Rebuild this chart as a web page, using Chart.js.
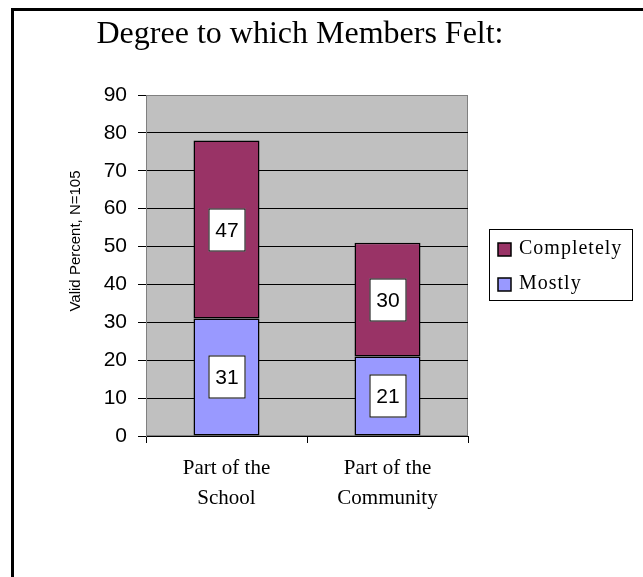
<!DOCTYPE html>
<html>
<head>
<meta charset="utf-8">
<script src="https://cdn.jsdelivr.net/npm/chart.js@4/dist/chart.umd.min.js"></script>
<style>
  html, body { margin: 0; padding: 0; background: #fff; }
  #wrap { width: 643px; height: 577px; position: relative; }
</style>
</head>
<body>
<div id="wrap"><canvas id="chart" width="643" height="577"></canvas></div>
<script>
const chartTitle = "Degree to which Members Felt:";
const yAxisTitle = "Valid Percent, N=105";
const categories = [["Part of the", "School"], ["Part of the", "Community"]];
const mostly = [31, 21];
const completely = [47, 30];
const yMin = 0;
const yMax = 90;
const yStep = 10;

const MAROON = "#993366";
const PERIWINKLE = "#9999FF";
const PLOT_BG = "#C0C0C0";

// frame, title, plot background and axis title
const decorPlugin = {
  id: "decor",
  beforeDraw(chart) {
    const { ctx, chartArea: a } = chart;
    ctx.save();
    ctx.fillStyle = "#fff";
    ctx.fillRect(0, 0, chart.width, chart.height);
    ctx.fillStyle = PLOT_BG;
    ctx.fillRect(a.left, a.top, a.right - a.left, a.bottom - a.top);
    ctx.strokeStyle = "#808080";
    ctx.lineWidth = 1;
    ctx.strokeRect(a.left + 0.5, a.top + 0.5, a.right - a.left - 1, a.bottom - a.top - 1);
    ctx.restore();
  },
  afterDraw(chart) {
    const { ctx } = chart;
    ctx.save();
    // outer frame (top and left edges)
    ctx.fillStyle = "#000";
    ctx.fillRect(11, 8, chart.width - 11, 3);
    ctx.fillRect(11, 8, 3, chart.height - 8);

    ctx.fillStyle = "#000";
    ctx.font = "32px 'Liberation Serif', 'Times New Roman', serif";
    ctx.textAlign = "center";
    ctx.textBaseline = "alphabetic";
    ctx.fillText(chartTitle, 300, 43);

    ctx.translate(76, 241);
    ctx.rotate(-Math.PI / 2);
    ctx.font = "15px 'Liberation Sans', Arial, sans-serif";
    ctx.textBaseline = "middle";
    ctx.fillText(yAxisTitle, 0, 0);
    ctx.restore();
  }
};

// boxed value labels in the middle of each segment
const boxLabels = {
  id: "boxLabels",
  afterDatasetsDraw(chart) {
    const { ctx } = chart;
    ctx.save();
    ctx.font = "21px 'Liberation Sans', Arial, sans-serif";
    ctx.textAlign = "center";
    ctx.textBaseline = "middle";
    chart.data.datasets.forEach((ds, i) => {
      const meta = chart.getDatasetMeta(i);
      meta.data.forEach((bar, j) => {
        const cx = Math.round(bar.x);
        const cy = Math.round((bar.y + bar.base) / 2);
        const w = 37, h = 43;
        ctx.fillStyle = "#fff";
        ctx.fillRect(cx - w / 2, cy - h / 2, w, h);
        ctx.strokeStyle = "#000";
        ctx.lineWidth = 1;
        ctx.strokeRect(cx - w / 2 + 0.5, cy - h / 2 + 0.5, w - 1, h - 1);
        ctx.fillStyle = "#000";
        ctx.fillText(String(ds.data[j]), cx, cy + 1);
      });
    });
    ctx.restore();
  }
};

// boxed legend on the right, top item = last dataset
const boxLegend = {
  id: "boxLegend",
  afterDraw(chart) {
    const { ctx } = chart;
    ctx.save();
    ctx.strokeStyle = "#000";
    ctx.lineWidth = 1;
    ctx.strokeRect(489.5, 229.5, 143, 71);
    ctx.font = "20px 'Liberation Serif', 'Times New Roman', serif";
    ctx.letterSpacing = "1px";
    ctx.textBaseline = "middle";
    ctx.textAlign = "left";
    const items = chart.data.datasets.slice().reverse();
    items.forEach((ds, k) => {
      const y = 243 + k * 35;
      ctx.fillStyle = ds.backgroundColor;
      ctx.fillRect(498, y, 13, 13);
      ctx.lineWidth = 1.5;
      ctx.strokeRect(498, y, 13, 13);
      ctx.fillStyle = "#000";
      ctx.fillText(ds.label, 519, y + 6);
    });
    ctx.restore();
  }
};

new Chart(document.getElementById("chart"), {
  type: "bar",
  data: {
    labels: categories,
    datasets: [
      {
        label: "Mostly",
        data: mostly,
        backgroundColor: PERIWINKLE,
        borderColor: "#000",
        borderWidth: 1.5,
        borderSkipped: false,
        barPercentage: 0.41,
        categoryPercentage: 1
      },
      {
        label: "Completely",
        data: completely,
        backgroundColor: MAROON,
        borderColor: "#000",
        borderWidth: 1.5,
        borderSkipped: false,
        barPercentage: 0.41,
        categoryPercentage: 1
      }
    ]
  },
  options: {
    responsive: false,
    animation: false,
    layout: { padding: { top: 95, left: 0, right: 175, bottom: 41 } },
    plugins: {
      legend: { display: false },
      title: { display: false },
      tooltip: { enabled: false }
    },
    scales: {
      x: {
        stacked: true,
        afterFit: (s) => { s.height = 100; },
        grid: {
          offset: true,
          drawOnChartArea: false,
          drawTicks: true,
          tickLength: 7,
          tickColor: "#000"
        },
        border: { color: "#000", width: 1 },
        ticks: {
          color: "#000",
          padding: 11,
          maxRotation: 0,
          font: { family: "'Liberation Serif', 'Times New Roman', serif", size: 21, lineHeight: 1.4 }
        }
      },
      y: {
        stacked: true,
        min: yMin,
        max: yMax,
        afterFit: (s) => { s.width = 146; },
        grid: {
          color: (c) => (c.tick && c.tick.value === yMax ? "#808080" : "#000"),
          tickColor: "#000",
          tickLength: 8
        },
        border: { color: "#808080", width: 1 },
        ticks: {
          stepSize: yStep,
          color: "#000",
          padding: 11,
          font: { family: "'Liberation Sans', Arial, sans-serif", size: 21 }
        }
      }
    }
  },
  plugins: [decorPlugin, boxLabels, boxLegend]
});
</script>
</body>
</html>
